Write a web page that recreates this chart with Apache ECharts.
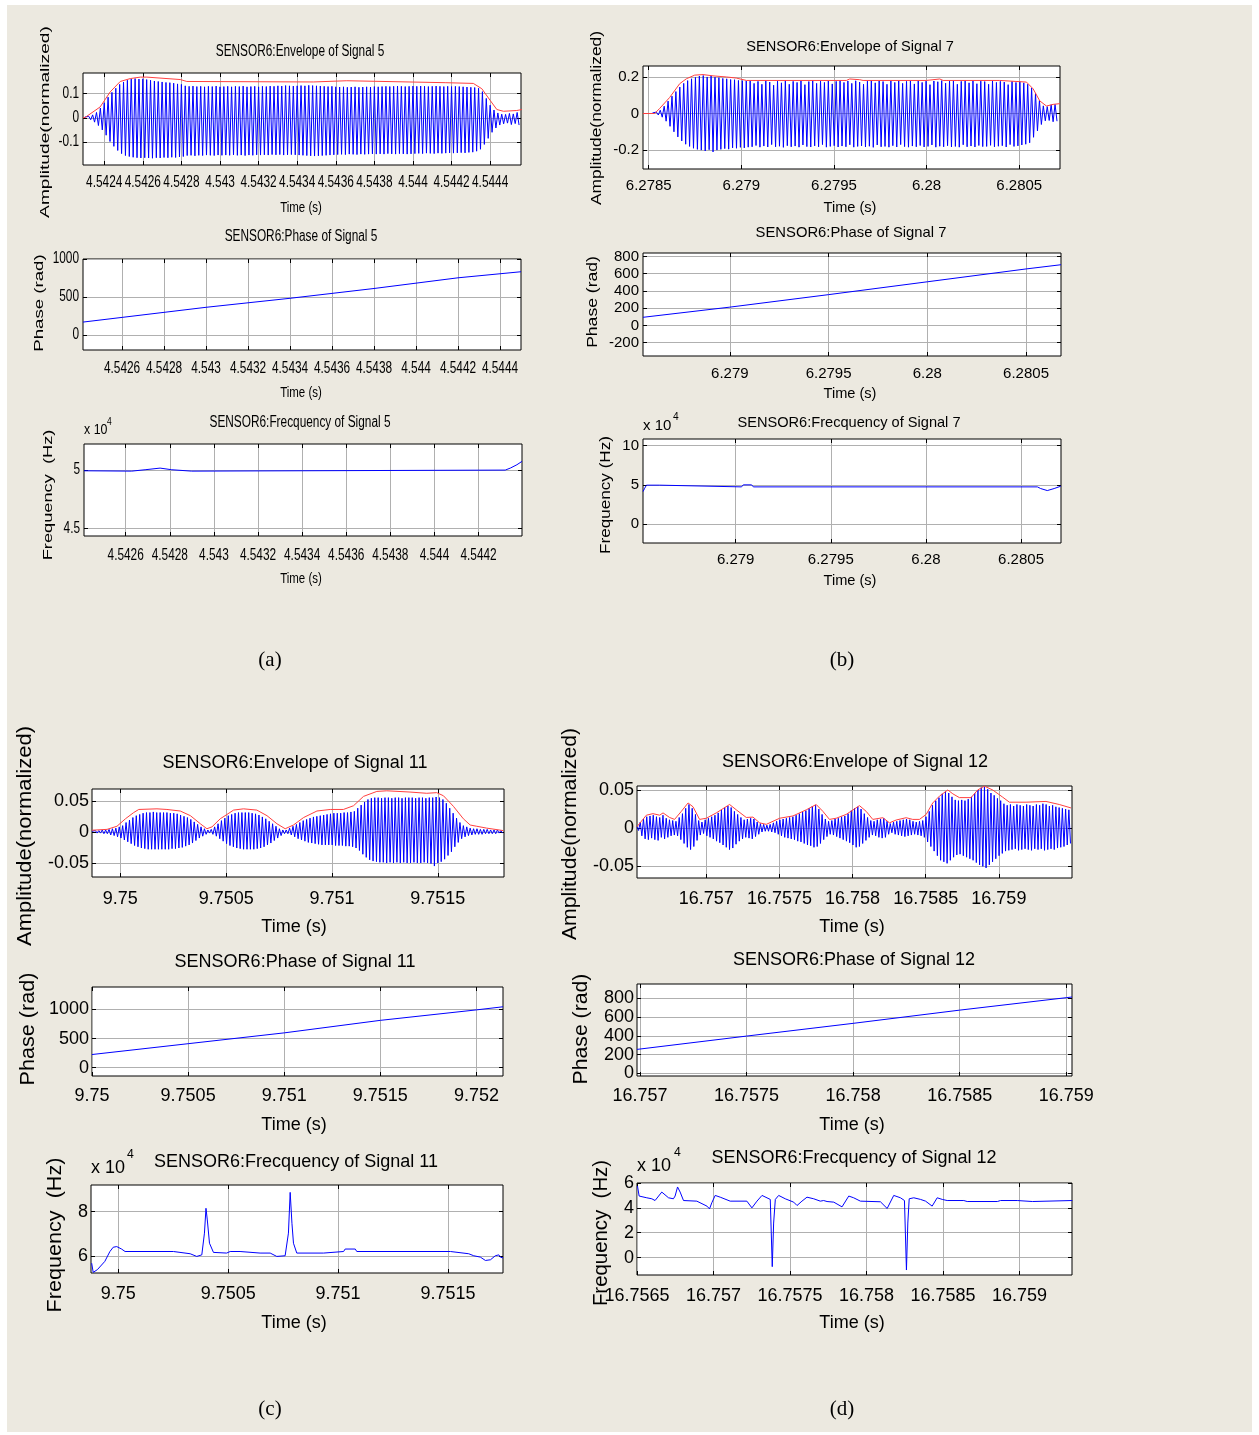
<!DOCTYPE html>
<html>
<head>
<meta charset="utf-8">
<script src="https://cdn.jsdelivr.net/npm/echarts@6/dist/echarts.min.js"></script>
<style>
  html, body { margin: 0; padding: 0; background: #fff; }
  #wrap { position: relative; width: 1259px; height: 1435px; }
  #bg { position: absolute; left: 7px; top: 5px; width: 1245px; height: 1427px; background: #ECE9E0; }
  #chart { position: absolute; left: 0; top: 0; width: 1259px; height: 1435px; }
</style>
</head>
<body>
<div id="wrap"><div id="bg"></div><div id="chart"></div></div>
<script>
// ---------------- Signal 5 ----------------
// oscillation peaks per carrier cycle, in thousandths of normalized amplitude
const env5Start = 4.54230, env5HalfPeriod = 1.0e-5;
const env5PosMilli = [3,6,12,22,40,62,85,105,122,138,148,155,
  160,162,160,161,158,155,152,150,148,146,145,143,140,138,
  132,130,131,129,130,128,130,129,131,128,
  129,130,128,130,129,131,128,129,130,128,
  130,129,131,130,132,131,133,132,131,132,
  133,132,134,133,132,131,130,129,130,128,
  127,128,126,127,128,126,127,128,127,129,
  128,129,130,129,130,131,130,129,130,131,
  130,131,130,129,130,131,130,129,130,129,
  130,129,128,127,126,125,
  122,108,80,52,32,20,15,14,18,16,22];
const env5NegMilli = [-2,-8,-18,-32,-50,-72,-98,-118,-135,-148,-156,-160,
  -163,-165,-166,-165,-166,-167,-165,-166,-164,-165,-163,-164,-162,-160,
  -156,-155,-157,-155,-156,-154,-155,-156,-154,-155,
  -154,-155,-153,-155,-154,-156,-154,-155,-153,-154,
  -153,-154,-152,-153,-152,-154,-153,-152,-153,-154,
  -155,-156,-157,-158,-157,-156,-155,-154,-153,-152,
  -151,-152,-150,-151,-152,-150,-151,-150,-149,-150,
  -149,-150,-148,-149,-150,-148,-149,-150,-149,-148,
  -147,-148,-146,-147,-148,-146,-147,-146,-145,-146,
  -145,-144,-145,-143,-142,-138,
  -130,-110,-85,-60,-42,-30,-25,-22,-28,-24,-30];
const env5Upper = [[4.54229,0],[4.542302,0.002],[4.542379,0.045],[4.542431,0.107],[4.542483,0.15],
  [4.542535,0.162],[4.542587,0.168],[4.542621,0.168],[4.542794,0.158],[4.542828,0.15],
  [4.543484,0.148],[4.54349,0.153],[4.543657,0.153],[4.543663,0.145],[4.544167,0.145],
  [4.544313,0.142],[4.544357,0.12],[4.5444,0.072],[4.544435,0.034],[4.544469,0.027],
  [4.544538,0.03],[4.544564,0.034]];
const phase5 = [[4.542414,168],[4.5426,230],[4.543,363],[4.5434,482],[4.5438,611],[4.5442,752],[4.5445,832]];
const freq5 = [[4.542411,4.994],[4.542627,4.991],[4.542635,5.003],[4.542688,5.003],[4.542695,5.017],
  [4.542756,5.017],[4.542763,5.003],[4.542809,5.003],[4.542813,4.991],[4.542899,4.991],
  [4.542907,5.0],[4.544321,5.0],[4.544344,5.017],[4.544374,5.046],[4.544397,5.075]];
const ticks5EnvX = [4.5424,4.5426,4.5428,4.543,4.5432,4.5434,4.5436,4.5438,4.544,4.5442,4.5444];
const ticks5PhaseX = [4.5426,4.5428,4.543,4.5432,4.5434,4.5436,4.5438,4.544,4.5442,4.5444];
const ticks5FreqX = [4.5426,4.5428,4.543,4.5432,4.5434,4.5436,4.5438,4.544,4.5442];
const ticks5EnvY = [-0.1,0,0.1], ticks5PhaseY = [0,500,1000], ticks5FreqY = [4.5,5];

// ---------------- Signal 7 ----------------
const env7Start = 6.27852, env7HalfPeriod = 1.055e-5;
const env7PosMilli = [3,8,18,40,68,95,120,145,165,180,190,198,205,
  208,200,206,199,196,192,190,186,185,181,180,178,
  178,165,176,160,178,172,155,177,168,179,
  160,176,170,178,158,175,180,165,177,170,
  178,162,176,180,170,178,165,179,172,160,
  177,181,168,178,175,160,178,170,180,165,
  176,178,162,179,170,177,158,178,174,180,
  166,177,178,160,176,179,168,178,163,177,
  175,160,178,170,176,172,158,176,170,174,168,
  160,140,110,72,42,38,48,50];
const env7NegMilli = [-2,-8,-20,-42,-70,-100,-128,-150,-168,-180,-190,-196,-200,
  -205,-198,-210,-200,-196,-192,-195,-188,-190,-185,-188,-184,
  -182,-175,-184,-178,-183,-170,-182,-179,-185,-176,
  -182,-178,-184,-172,-181,-183,-177,-182,-170,-184,
  -180,-176,-183,-178,-182,-171,-184,-180,-177,-183,
  -179,-185,-172,-182,-180,-184,-176,-183,-170,-181,
  -184,-178,-182,-175,-183,-180,-172,-184,-179,-182,
  -176,-183,-180,-184,-171,-182,-178,-183,-175,-181,
  -180,-174,-182,-179,-176,-183,-170,-180,-177,-172,-168,
  -160,-130,-95,-60,-40,-38,-45,-42];
const env7Upper = [[6.278469,0],[6.278532,0],[6.278559,0.028],[6.278613,0.088],[6.278667,0.163],
  [6.278703,0.19],[6.278748,0.21],[6.278793,0.213],[6.278847,0.206],[6.278919,0.2],
  [6.278973,0.194],[6.279027,0.181],[6.279567,0.181],[6.279585,0.189],[6.279639,0.185],
  [6.279657,0.181],[6.279999,0.181],[6.280008,0.189],[6.280071,0.189],[6.280089,0.181],
  [6.280395,0.181],[6.280404,0.172],[6.280539,0.172],[6.280575,0.135],[6.280611,0.069],
  [6.280647,0.041],[6.280683,0.05],[6.280719,0.054]];
const phase7 = [[6.27856,94],[6.279,212],[6.2795,357],[6.28,506],[6.2805,655],[6.280677,704]];
const freq7 = [[6.278513,4.14],[6.278522,4.57],[6.278531,4.96],[6.278601,4.96],[6.27861,4.74],
  [6.279031,4.74],[6.27904,5.0],[6.279084,5.0],[6.279093,4.74],[6.280586,4.74],
  [6.280603,4.53],[6.280638,4.27],[6.280674,4.53],[6.280709,4.83]];
const ticks7EnvX = [6.2785,6.279,6.2795,6.28,6.2805];
const ticks7X = [6.279,6.2795,6.28,6.2805];
const ticks7EnvY = [-0.2,0,0.2], ticks7PhaseY = [-200,0,200,400,600,800], ticks7FreqY = [0,5,10];

// ---------------- Signal 11 ----------------
const env11Start = 9.749866, env11HalfPeriod = 8.05e-6;
const env11PosMilli = [1,2,2,3,3,4,5,6,8,10,
  15,19,23,26,28,30,31,31,32,31,
  31,31,31,30,30,29,27,25,23,20,
  16,12,8,5,3,4,8,13,18,22,
  26,28,30,31,31,31,31,30,29,27,
  24,21,17,13,9,5,3,3,6,9,
  12,15,18,20,22,24,25,26,27,28,
  29,30,30,30,31,31,32,33,38,43,
  48,52,54,55,55,54,55,55,54,55,
  55,54,55,55,55,54,55,55,54,55,
  55,56,55,52,46,38,30,22,15,10,
  8,6,5,5,4,4,4,3,3,3,2];
const env11NegMilli = [-1,-2,-2,-3,-3,-5,-6,-8,-10,-13,
  -16,-19,-22,-24,-26,-27,-28,-28,-28,-28,
  -28,-28,-28,-27,-27,-26,-25,-23,-21,-18,
  -14,-10,-7,-4,-2,-4,-7,-11,-15,-19,
  -22,-24,-26,-27,-28,-28,-28,-28,-27,-26,
  -24,-21,-18,-14,-10,-6,-3,-3,-5,-8,
  -11,-13,-15,-17,-18,-19,-20,-21,-21,-21,
  -21,-22,-22,-22,-23,-23,-24,-26,-30,-36,
  -41,-45,-47,-48,-49,-49,-50,-49,-50,-49,
  -50,-49,-50,-50,-49,-50,-50,-49,-50,-51,
  -55,-50,-48,-44,-38,-32,-24,-17,-11,-8,
  -6,-5,-4,-4,-4,-3,-3,-3,-3,-2,-2];
const env11Upper = [[9.749866,0.0026],[9.749937,0.004],[9.749984,0.009],[9.750024,0.021],[9.750063,0.031],
  [9.750087,0.036],[9.750173,0.037],[9.75022,0.036],[9.750283,0.0335],[9.750331,0.026],
  [9.750378,0.013],[9.750409,0.005],[9.750433,0.008],[9.750472,0.021],[9.750504,0.028],
  [9.750535,0.035],[9.750582,0.037],[9.750645,0.035],[9.750693,0.026],[9.75074,0.013],
  [9.750779,0.005],[9.750818,0.011],[9.750866,0.023],[9.750929,0.0335],[9.750992,0.036],
  [9.751054,0.036],[9.751102,0.042],[9.751149,0.057],[9.751212,0.065],[9.751259,0.066],
  [9.751369,0.064],[9.751448,0.062],[9.751495,0.063],[9.751527,0.058],[9.751574,0.041],
  [9.751621,0.021],[9.751653,0.011],[9.751684,0.009],[9.751731,0.006],[9.75181,0.002]];
const phase11 = [[9.75,227],[9.7505,413],[9.751,599],[9.7515,814],[9.752,994],[9.752138,1047]];
const freq11 = [[9.749879,5.70],[9.749886,5.29],[9.749905,5.41],[9.749939,5.78],[9.749947,5.85],
  [9.749962,6.22],[9.749977,6.41],[9.749993,6.44],[9.750015,6.33],[9.750031,6.22],
  [9.750251,6.22],[9.750258,6.15],[9.750327,6.12],[9.750357,6.0],[9.75038,6.07],
  [9.750392,7.04],[9.750399,8.15],[9.750405,7.63],[9.750415,6.59],[9.750433,6.18],
  [9.750493,6.15],[9.750509,6.22],[9.750516,6.15],[9.750554,6.22],[9.750645,6.15],
  [9.750691,6.15],[9.750721,6.0],[9.750759,6.03],[9.750774,7.04],[9.750782,8.86],
  [9.75079,7.48],[9.750797,6.59],[9.750812,6.15],[9.750934,6.15],[9.750941,6.22],
  [9.751025,6.22],[9.751032,6.33],[9.751078,6.33],[9.751085,6.22],[9.751511,6.22],
  [9.751518,6.15],[9.751594,6.12],[9.751617,6.03],[9.751647,5.97],[9.75167,5.82],
  [9.751693,5.85],[9.751715,6.03],[9.751731,6.07],[9.751738,5.97],[9.75175,5.93]];
const ticks11X = [9.75,9.7505,9.751,9.7515];
const ticks11PhaseX = [9.75,9.7505,9.751,9.7515,9.752];
const ticks11EnvY = [-0.05,0,0.05], ticks11PhaseY = [0,500,1000], ticks11FreqY = [6,8];

// ---------------- Signal 12 ----------------
const env12Start = 16.756526, env12HalfPeriod = 1.11e-5;
const env12PosMilli = [2,8,12,15,16,17,15,14,17,13,
  11,10,9,14,19,26,31,26,18,10,
  8,11,13,15,17,20,24,27,29,27,
  22,18,14,11,12,13,12,8,6,5,
  4,5,7,9,11,12,13,14,15,17,
  19,21,23,26,29,30,25,18,12,9,
  10,12,13,15,16,19,23,26,28,25,
  19,14,10,9,11,12,13,9,6,8,
  9,10,11,12,11,9,8,9,10,15,
  22,30,36,40,45,48,46,41,37,36,
  37,36,38,41,46,50,53,54,51,46,
  43,39,36,32,30,31,29,31,30,29,
  31,30,29,31,30,32,31,29,30,28,
  27,26,25,24];
const env12NegMilli = [-3,-10,-14,-15,-13,-15,-16,-12,-14,-12,
  -10,-9,-10,-15,-20,-25,-28,-24,-16,-9,
  -7,-10,-12,-14,-17,-19,-22,-25,-28,-26,
  -21,-17,-14,-12,-13,-14,-11,-8,-5,-4,
  -4,-5,-6,-8,-10,-12,-13,-14,-15,-17,
  -18,-20,-22,-23,-25,-24,-20,-15,-11,-8,
  -9,-11,-13,-15,-17,-19,-22,-25,-24,-20,
  -16,-12,-9,-10,-12,-13,-12,-8,-6,-8,
  -9,-10,-11,-10,-9,-8,-9,-10,-12,-18,
  -24,-30,-36,-42,-44,-46,-42,-38,-35,-34,
  -36,-38,-40,-42,-45,-48,-50,-52,-48,-44,
  -40,-36,-33,-30,-29,-28,-27,-29,-28,-27,
  -28,-29,-27,-28,-27,-29,-28,-27,-28,-26,
  -25,-24,-22,-20];
const env12Upper = [[16.756526,0.002],[16.756556,0.009],[16.75659,0.017],[16.756635,0.019],[16.756681,0.017],
  [16.756704,0.02],[16.756749,0.014],[16.756783,0.0115],[16.756829,0.022],[16.756875,0.033],
  [16.756909,0.028],[16.756954,0.0115],[16.757,0.013],[16.757068,0.02],[16.757159,0.031],
  [16.757205,0.024],[16.757273,0.014],[16.757319,0.0145],[16.757364,0.007],[16.75741,0.005],
  [16.757501,0.013],[16.757592,0.016],[16.757683,0.024],[16.757751,0.031],[16.757797,0.022],
  [16.757842,0.0115],[16.757888,0.013],[16.757956,0.018],[16.758047,0.0295],[16.758093,0.022],
  [16.758138,0.0115],[16.758207,0.0137],[16.758252,0.007],[16.758298,0.0107],[16.758366,0.0137],
  [16.758411,0.0115],[16.758457,0.0115],[16.758503,0.018],[16.758548,0.033],[16.758594,0.042],
  [16.758651,0.05],[16.758685,0.045],[16.75873,0.04],[16.75881,0.04],[16.758855,0.05],
  [16.758901,0.055],[16.758958,0.05],[16.759026,0.0406],[16.759072,0.034],[16.759186,0.034],
  [16.759322,0.035],[16.759413,0.031],[16.759493,0.0265]];
const phase12 = [[16.756986,255],[16.7575,397],[16.758,533],[16.7585,674],[16.759,807],[16.759027,814]];
const freq12 = [[16.756503,5.76],[16.756514,4.95],[16.756564,4.81],[16.756597,4.73],[16.756618,4.59],
  [16.756662,5.27],[16.756706,4.81],[16.756738,4.73],[16.756749,4.95],[16.756765,5.68],
  [16.756782,5.27],[16.756804,4.59],[16.756891,4.54],[16.756957,4.14],[16.756974,3.92],
  [16.756989,4.41],[16.757011,5.0],[16.757044,4.86],[16.757109,4.54],[16.757218,4.54],
  [16.757251,4.0],[16.757284,4.54],[16.757317,5.0],[16.757371,4.68],[16.757384,-0.73],
  [16.757393,2.78],[16.757404,4.68],[16.757426,5.0],[16.757469,4.73],[16.757524,4.46],
  [16.757546,4.19],[16.757578,4.54],[16.757611,4.86],[16.757655,4.73],[16.757698,4.54],
  [16.75772,4.59],[16.757742,4.51],[16.757786,4.46],[16.75784,4.08],[16.757884,4.95],
  [16.757916,4.81],[16.75796,4.54],[16.758091,4.49],[16.758135,3.95],[16.758178,5.0],
  [16.758222,4.81],[16.758248,4.59],[16.758261,-1.0],[16.75827,2.78],[16.758279,4.73],
  [16.758309,4.81],[16.758353,4.68],[16.758386,4.54],[16.758429,4.14],[16.758462,4.81],
  [16.758495,4.68],[16.758527,4.59],[16.758636,4.59],[16.758658,4.51],[16.758855,4.51],
  [16.758876,4.59],[16.758985,4.59],[16.758996,4.51],[16.759084,4.51],[16.759094,4.59],
  [16.759345,4.59]];
const ticks12X = [16.757,16.7575,16.758,16.7585,16.759];
const ticks12FreqX = [16.7565,16.757,16.7575,16.758,16.7585,16.759];
const ticks12EnvY = [-0.05,0,0.05], ticks12PhaseY = [0,200,400,600,800], ticks12FreqY = [0,2,4,6];

// ---------------- drawing ----------------
const BLUE = '#0000ff', RED = '#ff4040', GRID = '#b0b0b0';
const FONT_SANS = "'Liberation Sans',Arial,sans-serif";
const FONT_SERIF = "'Liberation Serif','Times New Roman',serif";
const NARROW = 0.74;   // horizontal squeeze of the text in panel (a)

function oscillation(start, half, pos, neg) {
  const out = [];
  for (let i = 0; i < pos.length; i++) {
    out.push([start + 2 * i * half, pos[i] / 1000]);
    out.push([start + (2 * i + 1) * half, neg[i] / 1000]);
  }
  return out;
}
const blue = d => ({ data: d, color: BLUE });
const red = d => ({ data: d, color: RED });

// narrow: tick labels of panel (a) are drawn as squeezed text at the axis positions
const plots = [
  { rect: [83, 73, 438, 92], x: [4.54229, 4.54456], y: [-0.195, 0.185], xt: ticks5EnvX, yt: ticks5EnvY,
    narrow: true, fs: 16, xm: 17.5, ym: 4,
    lines: [blue(oscillation(env5Start, env5HalfPeriod, env5PosMilli, env5NegMilli)), red(env5Upper)] },
  { rect: [83, 259, 438, 91], x: [4.542414, 4.5445], y: [-200, 1000], xt: ticks5PhaseX, yt: ticks5PhaseY,
    narrow: true, fs: 16, xm: 19, ym: 4, lines: [blue(phase5)] },
  { rect: [84, 444, 438, 92], x: [4.542411, 4.544397], y: [4.434, 5.224], xt: ticks5FreqX, yt: ticks5FreqY,
    narrow: true, fs: 16, xm: 19.5, ym: 4, lines: [blue(freq5)] },

  { rect: [643, 66, 417, 103], x: [6.278469, 6.28072], y: [-0.3035, 0.26], xt: ticks7EnvX, yt: ticks7EnvY,
    fs: 15, xm: 9, ym: 4,
    lines: [blue(oscillation(env7Start, env7HalfPeriod, env7PosMilli, env7NegMilli)), red(env7Upper)] },
  { rect: [643, 253, 418, 103], x: [6.27856, 6.280677], y: [-355, 840], xt: ticks7X, yt: ticks7PhaseY,
    fs: 15, xm: 10, ym: 4, lines: [blue(phase7)] },
  { rect: [643, 439, 418, 104], x: [6.278513, 6.28071], y: [-2.42, 10.85], xt: ticks7X, yt: ticks7FreqY,
    fs: 15, xm: 9, ym: 4, lines: [blue(freq7)] },

  { rect: [92, 789, 412, 88], x: [9.749866, 9.751813], y: [-0.0726, 0.0689], xt: ticks11X, yt: ticks11EnvY,
    fs: 18, xm: 13, ym: 3,
    lines: [blue(oscillation(env11Start, env11HalfPeriod, env11PosMilli, env11NegMilli)), red(env11Upper)] },
  { rect: [92, 987, 411, 89], x: [9.75, 9.752138], y: [-142, 1387], xt: ticks11PhaseX, yt: ticks11PhaseY,
    fs: 18, xm: 11, ym: 3, lines: [blue(phase11)] },
  { rect: [91, 1185, 412, 88], x: [9.749876, 9.75175], y: [5.26, 9.19], xt: ticks11X, yt: ticks11FreqY,
    fs: 18, xm: 12, ym: 3, lines: [blue(freq11)] },

  { rect: [637, 786, 435, 92], x: [16.756526, 16.7595], y: [-0.0652, 0.0552], xt: ticks12X, yt: ticks12EnvY,
    fs: 18, xm: 12, ym: 3,
    lines: [blue(oscillation(env12Start, env12HalfPeriod, env12PosMilli, env12NegMilli)), red(env12Upper)] },
  { rect: [637, 984, 435, 92], x: [16.756986, 16.759027], y: [-29, 953], xt: ticks12X, yt: ticks12PhaseY,
    fs: 18, xm: 11, ym: 3, lines: [blue(phase12)] },
  { rect: [637, 1183, 435, 92], x: [16.7565, 16.759343], y: [-1.4, 6.0], xt: ticks12FreqX, yt: ticks12FreqY,
    fs: 18, xm: 12, ym: 3, lines: [blue(freq12)] }
];

const grid = [], xAxis = [], yAxis = [], series = [];
const tickStyle = { show: true, inside: true, length: 4, lineStyle: { color: '#000', width: 1 } };
plots.forEach((p, gi) => {
  grid.push({ left: p.rect[0], top: p.rect[1], width: p.rect[2], height: p.rect[3],
    show: true, backgroundColor: '#fff', borderColor: '#000', borderWidth: 1, outerBoundsMode: 'none' });
  const label = { show: !p.narrow, fontFamily: FONT_SANS, fontSize: p.fs, color: '#000', formatter: v => String(v) };
  const xi = xAxis.length, yi = yAxis.length;
  xAxis.push({ type: 'value', gridIndex: gi, position: 'bottom', min: p.x[0], max: p.x[1],
    axisLine: { show: false, onZero: false },
    axisTick: Object.assign({ customValues: p.xt }, tickStyle),
    axisLabel: Object.assign({ customValues: p.xt, margin: p.xm, hideOverlap: false }, label),
    splitLine: { show: true, lineStyle: { color: GRID, width: 1 } } });
  xAxis.push({ type: 'value', gridIndex: gi, position: 'top', min: p.x[0], max: p.x[1],
    axisLine: { show: false, onZero: false },
    axisTick: Object.assign({ customValues: p.xt }, tickStyle),
    axisLabel: { show: false }, splitLine: { show: false } });
  yAxis.push({ type: 'value', gridIndex: gi, position: 'left', min: p.y[0], max: p.y[1],
    axisLine: { show: false, onZero: false },
    axisTick: Object.assign({ customValues: p.yt }, tickStyle),
    axisLabel: Object.assign({ customValues: p.yt, margin: p.ym, hideOverlap: false }, label),
    splitLine: { show: true, lineStyle: { color: GRID, width: 1 } } });
  yAxis.push({ type: 'value', gridIndex: gi, position: 'right', min: p.y[0], max: p.y[1],
    axisLine: { show: false, onZero: false },
    axisTick: Object.assign({ customValues: p.yt }, tickStyle),
    axisLabel: { show: false }, splitLine: { show: false } });
  p.lines.forEach(l => series.push({ type: 'line', xAxisIndex: xi, yAxisIndex: yi, data: l.data,
    showSymbol: false, symbol: 'none', silent: true, lineStyle: { color: l.color, width: 1 } }));
});

// text labels
const graphic = [];
function txt(text, x, y, fam, size, opts) {
  const o = opts || {};
  graphic.push({ type: 'text', x: x, y: y, rotation: o.rot || 0, scaleX: o.sx || 1, z: 50,
    style: { text: text, fontFamily: fam, fontSize: size, fill: '#000',
      align: o.align || 'center', verticalAlign: o.va || 'middle' } });
}
const nar = (text, x, y, size, opts) => txt(text, x, y, FONT_SANS, size, Object.assign({ sx: NARROW }, opts || {}));
function ylab(text, x, y, fam, size, stretch) { txt(text, x, y, fam, size, { rot: Math.PI / 2, sx: stretch }); }
function mult(x, y, fam, size, sx, sy, squeeze) {
  txt('x 10', x, y, fam, size, { align: 'left', sx: squeeze || 1 });
  txt('4', sx, sy, fam, size * 0.68, { align: 'left', sx: squeeze || 1 });
}

// panel (a)
nar('SENSOR6:Envelope of Signal 5', 300, 52, 16);
nar('Time (s)', 301, 208, 15.5);
nar('SENSOR6:Phase of Signal 5', 301, 237, 16);
nar('Time (s)', 301, 393, 15.5);
nar('SENSOR6:Frecquency of Signal 5', 300, 423, 16);
nar('Time (s)', 301, 579, 15.5);
ylab('Amplitude(normalized)', 45, 122, FONT_SANS, 13.5, 1.42);
ylab('Phase (rad)', 39, 303, FONT_SANS, 13.5, 1.38);
ylab('Frequency  (Hz)', 48, 495, FONT_SANS, 13.5, 1.35);
mult(84, 430, FONT_SANS, 15.5, 107, 422, 0.8);
txt('(a)', 270, 660, FONT_SERIF, 21);

// panel (b)
txt('SENSOR6:Envelope of Signal 7', 850, 47, FONT_SANS, 14.6);
txt('Time (s)', 850, 208, FONT_SANS, 14.6);
txt('SENSOR6:Phase of Signal 7', 851, 233, FONT_SANS, 14.8);
txt('Time (s)', 850, 394, FONT_SANS, 14.6);
txt('SENSOR6:Frecquency of Signal 7', 849, 423, FONT_SANS, 14.6);
txt('Time (s)', 850, 581, FONT_SANS, 14.6);
ylab('Amplitude(normalized)', 597, 118, FONT_SANS, 15, 1.16);
ylab('Phase (rad)', 593, 302, FONT_SANS, 15, 1.17);
ylab('Frequency (Hz)', 606, 495, FONT_SANS, 15, 1.14);
mult(643, 426, FONT_SANS, 15, 673, 417);
txt('(b)', 842, 660, FONT_SERIF, 21);

// panel (c)
txt('SENSOR6:Envelope of Signal 11', 295, 763, FONT_SANS, 18);
txt('Time (s)', 294, 927, FONT_SANS, 18);
txt('SENSOR6:Phase of Signal 11', 295, 962, FONT_SANS, 18);
txt('Time (s)', 294, 1125, FONT_SANS, 18);
txt('SENSOR6:Frecquency of Signal 11', 296, 1162, FONT_SANS, 18);
txt('Time (s)', 294, 1323, FONT_SANS, 18);
ylab('Amplitude(normalized)', 25, 836, FONT_SANS, 20, 1.1);
ylab('Phase (rad)', 28, 1029, FONT_SANS, 20, 1.08);
ylab('Frequency  (Hz)', 55, 1235, FONT_SANS, 20, 1.08);
mult(91, 1168, FONT_SANS, 18, 127, 1155);
txt('(c)', 270, 1409, FONT_SERIF, 21);

// panel (d)
txt('SENSOR6:Envelope of Signal 12', 855, 762, FONT_SANS, 18);
txt('Time (s)', 852, 927, FONT_SANS, 18);
txt('SENSOR6:Phase of Signal 12', 854, 960, FONT_SANS, 18);
txt('Time (s)', 852, 1125, FONT_SANS, 18);
txt('SENSOR6:Frecquency of Signal 12', 854, 1158, FONT_SANS, 18);
txt('Time (s)', 852, 1323, FONT_SANS, 18);
ylab('Amplitude(normalized)', 570, 834, FONT_SANS, 20, 1.06);
ylab('Phase (rad)', 581, 1029, FONT_SANS, 20, 1.06);
ylab('Frequency  (Hz)', 601, 1233, FONT_SANS, 20, 1.02);
mult(637, 1166, FONT_SANS, 18, 674, 1153);
txt('(d)', 842, 1409, FONT_SERIF, 21);

const chart = echarts.init(document.getElementById('chart'), null, { renderer: 'canvas' });
chart.setOption({ animation: false, backgroundColor: 'transparent', grid, xAxis, yAxis, series });

// squeezed tick labels for panel (a), placed through the axes' own scales
plots.forEach((p, gi) => {
  if (!p.narrow) return;
  const bottom = p.rect[1] + p.rect[3], left = p.rect[0];
  p.xt.forEach(v => nar(String(v), chart.convertToPixel({ xAxisIndex: 2 * gi }, v), bottom + p.xm, p.fs));
  p.yt.forEach(v => nar(String(v), left - p.ym, chart.convertToPixel({ yAxisIndex: 2 * gi }, v), p.fs, { align: 'right' }));
});
chart.setOption({ graphic });
</script>
</body>
</html>
